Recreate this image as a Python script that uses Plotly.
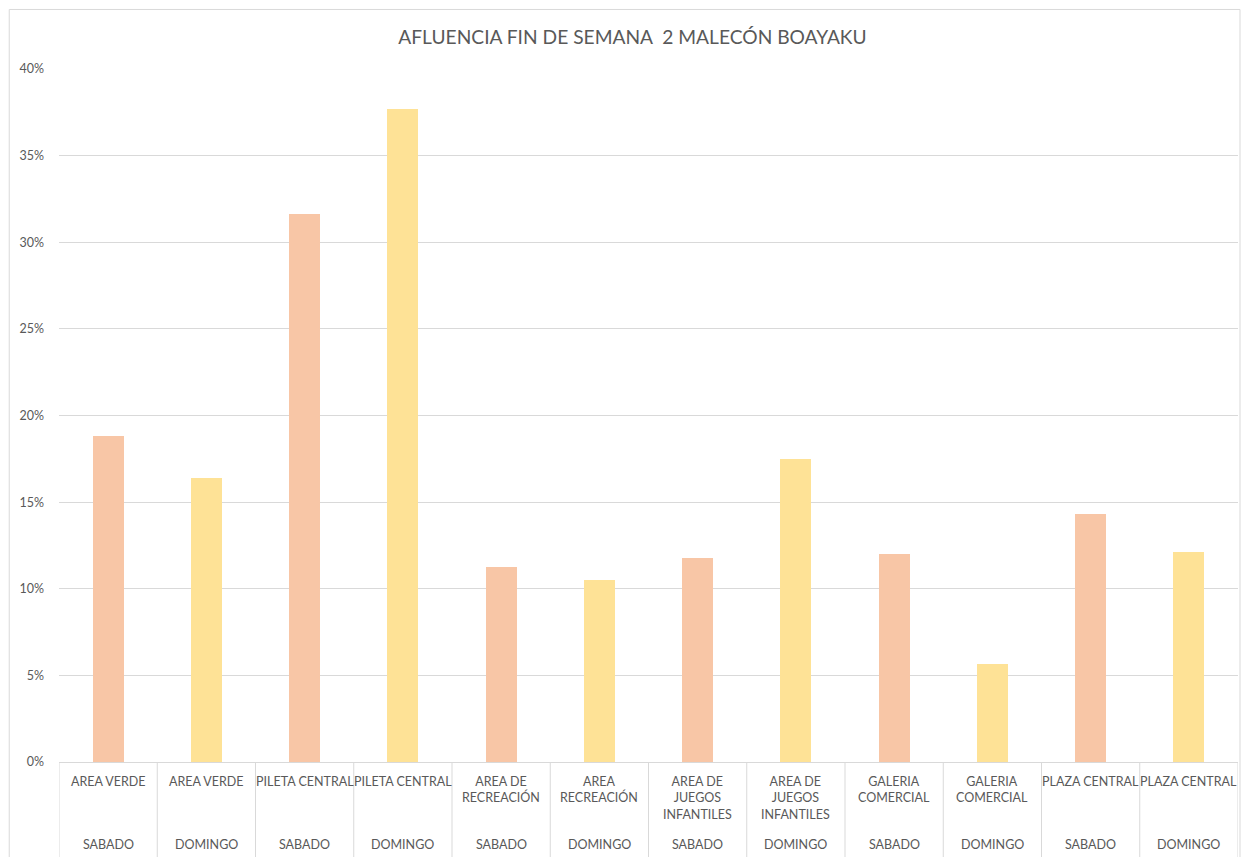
import plotly.graph_objects as go

# Afluencia por zona y día (porcentaje)
lugares = [
    "AREA VERDE", "AREA VERDE",
    "PILETA CENTRAL", "PILETA CENTRAL",
    "AREA DE<br>RECREACIÓN", "AREA<br>RECREACIÓN",
    "AREA DE<br>JUEGOS<br>INFANTILES", "AREA DE<br>JUEGOS<br>INFANTILES",
    "GALERIA<br>COMERCIAL", "GALERIA<br>COMERCIAL",
    "PLAZA CENTRAL", "PLAZA CENTRAL",
]
dias = ["SABADO", "DOMINGO"] * 6
afluencia = [18.82, 16.40, 31.64, 37.70, 11.26, 10.51,
             11.78, 17.49, 12.01, 5.66, 14.32, 12.12]

color_dia = {"SABADO": "#F8C6A6", "DOMINGO": "#FEE296"}
texto = "#595959"
linea = "#D9D9D9"
fuente = "Lato, 'Open Sans', sans-serif"

posiciones = list(range(len(lugares)))

fig = go.Figure(
    go.Bar(
        x=posiciones,
        y=[v / 100 for v in afluencia],
        width=0.315,
        marker=dict(color=[color_dia[d] for d in dias], line=dict(width=0)),
        hovertext=[f"{l.replace('<br>', ' ')} - {d}" for l, d in zip(lugares, dias)],
    )
)

annotations = []
shapes = []
for i, (lugar, dia) in enumerate(zip(lugares, dias)):
    annotations.append(dict(
        x=i, xref="x", y=-0.0145, yref="paper", yanchor="top",
        text=lugar, showarrow=False, align="center",
        font=dict(size=12.5, color=texto, family=fuente),
    ))
    annotations.append(dict(
        x=i, xref="x", y=-0.1197, yref="paper", yanchor="middle",
        text=dia, showarrow=False,
        font=dict(size=12.5, color=texto, family=fuente),
    ))
for i in range(len(lugares) + 1):
    shapes.append(dict(
        type="line", xref="x", yref="paper",
        x0=i - 0.5, x1=i - 0.5, y0=0, y1=-0.14,
        line=dict(color=linea, width=1),
    ))

# marco exterior del gráfico
shapes.append(dict(
    type="rect", xref="paper", yref="paper",
    x0=-0.0422, x1=1.0017, y0=-0.2, y1=1.0859,
    line=dict(color=linea, width=1), layer="below",
))

fig.update_layout(
    width=1241, height=857,
    margin=dict(l=59, r=3, t=69, b=95),
    paper_bgcolor="white", plot_bgcolor="white",
    showlegend=False,
    title=dict(
        text="AFLUENCIA FIN DE SEMANA\u00a0 2 MALECÓN BOAYAKU",
        x=632.5 / 1241, xanchor="center", y=1 - 37 / 857, yanchor="middle",
        font=dict(size=19.2, color=texto, family=fuente),
    ),
    xaxis=dict(
        range=[-0.5, len(lugares) - 0.5],
        showticklabels=False, showgrid=False, zeroline=False,
        showline=True, linecolor=linea, linewidth=1, fixedrange=True,
    ),
    yaxis=dict(
        range=[0, 0.4], dtick=0.05, tickformat=".0%",
        showgrid=True, gridcolor=linea, gridwidth=1,
        zeroline=False, showline=False, ticks="",
        tickfont=dict(size=12.5, color=texto, family=fuente),
        ticklabelstandoff=14,
    ),
    annotations=annotations,
    shapes=shapes,
    bargap=0,
)

fig.write_html("out.html")
